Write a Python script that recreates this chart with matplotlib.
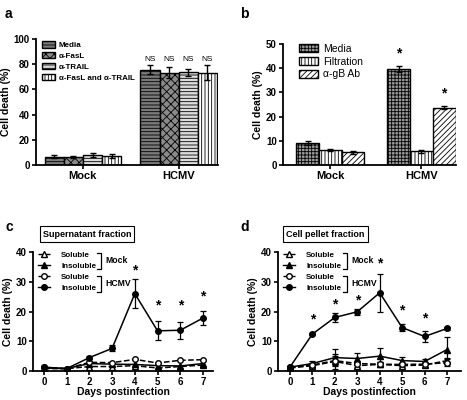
import numpy as np
import matplotlib
matplotlib.use("Agg")
import matplotlib.pyplot as plt
from matplotlib.lines import Line2D

plt.rcParams['font.family'] = ['Liberation Sans', 'DejaVu Sans']
plt.rcParams['hatch.linewidth'] = 0.6

# ---- panel a ----
groups = ["Mock", "HCMV"]
a_labels = ["Media", "\u03b1-FasL", "\u03b1-TRAIL", "\u03b1-FasL and \u03b1-TRAIL"]
a_vals = [[6.7, 75.5], [6.4, 73.4], [8.0, 73.6], [7.2, 73.4]]
a_err  = [[1.2, 3.5], [0.6, 4.2], [1.6, 2.8], [1.9, 6.0]]
a_sig  = ["NS", "NS", "NS", "NS"]

# ---- panel b ----
b_labels = ["Media", "Filtration", "\u03b1-gB Ab"]
b_vals = [[9.1, 39.6], [6.2, 5.7], [5.2, 23.6]]
b_err  = [[1.0, 1.3], [0.3, 0.7], [0.5, 0.6]]

# ---- panels c, d ----
days = [0, 1, 2, 3, 4, 5, 6, 7]
series_names = ["Soluble", "Insoluble", "Soluble", "Insoluble"]

c_mock_sol   = [0.8, 0.8, 1.5, 1.5, 1.8, 1.0, 1.5, 2.0]
c_mock_ins   = [1.0, 0.8, 2.5, 2.3, 2.2, 1.8, 1.7, 2.5]
c_hcmv_sol   = [1.2, 0.8, 2.9, 2.8, 3.9, 2.7, 3.6, 3.8]
c_hcmv_ins   = [1.3, 0.8, 4.5, 7.6, 26.0, 13.5, 13.7, 17.8]
c_hcmv_ins_e = [0.3, 0.3, 0.6, 1.0, 4.8, 3.2, 2.8, 2.5]
c_star_day   = [4, 5, 6, 7]
c_star_y     = [33.8, 22.1, 22.1, 25.1]

d_mock_sol   = [1.0, 1.8, 3.2, 1.8, 2.2, 1.8, 2.0, 3.5]
d_mock_sol_e = [0.3, 0.8, 2.5, 1.0, 0.8, 0.6, 0.8, 1.0]
d_mock_ins   = [1.3, 2.5, 4.5, 4.2, 5.0, 3.5, 3.2, 7.2]
d_mock_ins_e = [0.3, 1.0, 2.8, 2.0, 2.8, 1.2, 1.0, 4.2]
d_hcmv_sol   = [1.2, 2.0, 3.5, 2.5, 2.3, 2.2, 2.3, 2.8]
d_hcmv_sol_e = [0.3, 0.6, 1.5, 1.0, 0.8, 0.6, 0.8, 1.2]
d_hcmv_ins   = [1.3, 12.4, 18.0, 19.9, 26.3, 14.6, 11.6, 14.3]
d_hcmv_ins_e = [0.3, 0.4, 1.5, 1.0, 6.3, 1.2, 2.0, 0.5]
d_star_day   = [1, 2, 3, 4, 5, 6]
d_star_y     = [17.2, 22.4, 23.8, 36.2, 20.2, 17.6]

fig = plt.figure(figsize=(4.67, 4.0), dpi=100)

def style(ax, fs=7):
    for s in ["top", "right"]:
        ax.spines[s].set_visible(False)
    for s in ["left", "bottom"]:
        ax.spines[s].set_linewidth(1.3)
    ax.tick_params(width=1.2, length=3, labelsize=fs, pad=1.5)
    for t in ax.get_xticklabels() + ax.get_yticklabels():
        t.set_fontweight("bold")

# a
ax = fig.add_axes([36/467, 1-165/400, 182/467, 126/400])
a_hatch = ["-----", "xxxx", "-----", "|||||"]
a_face  = ["#7a7a7a", "#8a8a8a", "#dcdcdc", "#ffffff"]
x = np.arange(len(groups))
w = 0.2
for i in range(4):
    ax.bar(x + (i-1.5)*w, a_vals[i], w, yerr=a_err[i], color=a_face[i], edgecolor="black",
           hatch=a_hatch[i], linewidth=1.0, label=a_labels[i],
           error_kw=dict(ecolor="black", elinewidth=1, capsize=2.5, capthick=1))
    ax.text(x[1] + (i-1.5)*w, 84, a_sig[i], ha="center", va="center", fontsize=6)
ax.set_xlim(-0.49, 1.41)
ax.set_ylim(0, 100)
ax.set_yticks([0, 20, 40, 60, 80, 100])
ax.set_xticks(x)
ax.set_xticklabels(groups)
ax.set_ylabel("Cell death (%)", fontsize=7.5, fontweight="bold", labelpad=2)
style(ax)
for t in ax.get_xticklabels():
    t.set_fontsize(8)
ax.legend(loc="upper left", bbox_to_anchor=(0.0, 1.03), frameon=False,
          handlelength=1.6, handleheight=0.9, labelspacing=0.35, handletextpad=0.5,
          borderaxespad=0.3, prop=dict(weight="bold", size=5.8))
fig.text(5/467, 1-14/400, "a", fontsize=10, fontweight="bold", va="center")

# b
ax = fig.add_axes([283/467, 1-165/400, 173/467, 121/400])
b_hatch = ["+++++", "|||||", "//////"]
b_face  = ["#9a9a9a", "#ffffff", "#ffffff"]
w = 0.25
for i in range(3):
    ax.bar(x + (i-1)*w, b_vals[i], w, yerr=b_err[i], color=b_face[i], edgecolor="black",
           hatch=b_hatch[i], linewidth=1.0, label=b_labels[i],
           error_kw=dict(ecolor="black", elinewidth=1, capsize=2.5, capthick=1))
ax.text(x[1] - w, 46, "*", ha="center", va="center", fontsize=10, fontweight="bold")
ax.text(x[1] + w, 29.5, "*", ha="center", va="center", fontsize=10, fontweight="bold")
ax.set_xlim(-0.52, 1.38)
ax.set_ylim(0, 50)
ax.set_yticks([0, 10, 20, 30, 40, 50])
ax.set_xticks(x)
ax.set_xticklabels(groups)
ax.set_ylabel("Cell death (%)", fontsize=7.5, fontweight="bold", labelpad=2)
style(ax)
for t in ax.get_xticklabels():
    t.set_fontsize(8)
ax.legend(loc="upper left", bbox_to_anchor=(0.05, 1.06), frameon=False, fontsize=7.5,
          handlelength=1.8, handleheight=0.8, labelspacing=0.25, handletextpad=0.5,
          borderaxespad=0.3)
fig.text(240/467, 1-14/400, "b", fontsize=10, fontweight="bold", va="center")


def line_panel(ax, mock_sol, mock_ins, hcmv_sol, hcmv_ins, errs, star_day, star_y,
               title, title_x, xlim):
    kw = dict(color="black", lw=1.1, ms=4, capsize=2.2, elinewidth=0.9, capthick=0.9)
    ms, mi, hs, hi = errs
    ax.errorbar(days, mock_sol, yerr=ms, ls="--", marker="^", mfc="white", **kw)
    ax.errorbar(days, mock_ins, yerr=mi, ls="-", marker="^", mfc="black", **kw)
    ax.errorbar(days, hcmv_sol, yerr=hs, ls="--", marker="o", mfc="white", **kw)
    ax.errorbar(days, hcmv_ins, yerr=hi, ls="-", marker="o", mfc="black", **kw)
    for dd, yy in zip(star_day, star_y):
        ax.text(dd, yy, "*", ha="center", va="center", fontsize=10, fontweight="bold")
    ax.set_xlim(*xlim)
    ax.set_ylim(0, 40)
    ax.set_yticks([0, 10, 20, 30, 40])
    ax.set_xticks(days)
    ax.set_xlabel("Days postinfection", fontsize=7.5, fontweight="bold", labelpad=0)
    ax.set_ylabel("Cell death (%)", fontsize=7.5, fontweight="bold", labelpad=2)
    style(ax)
    ax.tick_params(axis="x", pad=1)
    handles = [
        Line2D([], [], color="black", ls="--", marker="^", mfc="white", ms=4, lw=1),
        Line2D([], [], color="black", ls="-", marker="^", mfc="black", ms=4, lw=1),
        Line2D([], [], color="black", ls="--", marker="o", mfc="white", ms=4, lw=1),
        Line2D([], [], color="black", ls="-", marker="o", mfc="black", ms=4, lw=1),
    ]
    ax.legend(handles, series_names, loc="upper left", bbox_to_anchor=(0.0, 1.05),
              frameon=False, handlelength=1.5, labelspacing=0.45, handletextpad=1.4,
              borderaxespad=0.2, prop=dict(weight="bold", size=5.8))
    tr = ax.transAxes
    for y0, y1, name in [(0.99, 0.855, "Mock"), (0.795, 0.66, "HCMV")]:
        ax.plot([0.355, 0.375, 0.375, 0.355], [y0, y0, y1, y1], color="black", lw=0.9,
                transform=tr, clip_on=False)
        ax.text(0.40, (y0 + y1) / 2 + 0.005, name, transform=tr, fontsize=6.2,
                fontweight="bold", va="center", ha="left")
    ax.text(title_x, 1.15, title, transform=tr, ha="center", va="center", fontsize=6.5,
            fontweight="bold",
            bbox=dict(boxstyle="square,pad=0.35", fc="white", ec="black", lw=0.8))


ax = fig.add_axes([33/467, 1-371/400, 180/467, 119/400])
line_panel(ax, c_mock_sol, c_mock_ins, c_hcmv_sol, c_hcmv_ins,
           [None, None, None, c_hcmv_ins_e], c_star_day, c_star_y,
           "Supernatant fraction", 0.30, (-0.48, 7.44))
fig.text(5/467, 1-227/400, "c", fontsize=10, fontweight="bold", va="center")

ax = fig.add_axes([278/467, 1-371/400, 183/467, 119/400])
line_panel(ax, d_mock_sol, d_mock_ins, d_hcmv_sol, d_hcmv_ins,
           [d_mock_sol_e, d_mock_ins_e, d_hcmv_sol_e, d_hcmv_ins_e], d_star_day, d_star_y,
           "Cell pellet fraction", 0.26, (-0.53, 7.62))
fig.text(240/467, 1-227/400, "d", fontsize=10, fontweight="bold", va="center")

fig.savefig("out.png", dpi=100)
